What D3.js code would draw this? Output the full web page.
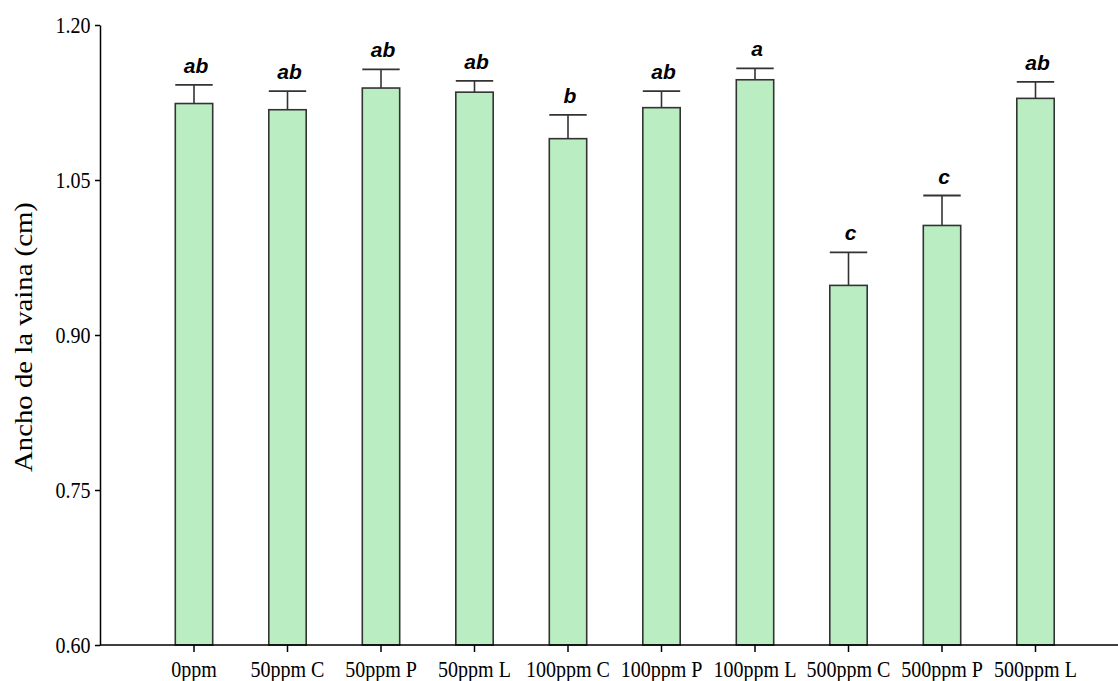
<!DOCTYPE html>
<html>
<head>
<meta charset="utf-8">
<script src="https://cdn.jsdelivr.net/npm/d3@7"></script>
<style>
  body { margin: 0; background: #fff; }
  svg { display: block; }
  .tick text { font-family: "Liberation Serif", "Times New Roman", serif; font-size: 23px; fill: #000; }
</style>
</head>
<body>
<div id="chart"></div>
<script>
// treatments and measured means / errors
var tratamientos = ["0ppm", "50ppm C", "50ppm P", "50ppm L", "100ppm C", "100ppm P", "100ppm L", "500ppm C", "500ppm P", "500ppm L"];
var medias = [1.124, 1.118, 1.139, 1.135, 1.090, 1.120, 1.147, 0.948, 1.006, 1.129];
var errores = [0.018, 0.018, 0.018, 0.011, 0.023, 0.016, 0.011, 0.032, 0.029, 0.016];
var letras = ["ab", "ab", "ab", "ab", "b", "ab", "a", "c", "c", "ab"];
var yTicks = [0.60, 0.75, 0.90, 1.05, 1.20];

var width = 1118, height = 681;
var svg = d3.select("#chart").append("svg")
  .attr("width", width)
  .attr("height", height);

var x = d3.scaleBand()
  .domain(tratamientos)
  .range([147.25, 1082.25])
  .paddingInner(0.6)
  .paddingOuter(0.3);

var y = d3.scaleLinear()
  .domain([0.6, 1.2])
  .range([645, 25]);

var data = tratamientos.map(function(t, i) {
  return { t: t, m: medias[i], e: errores[i], l: letras[i] };
});

// error bars (drawn first so the bar outline sits on top)
var eb = svg.append("g");
eb.selectAll("line.stem").data(data).enter().append("line")
  .attr("x1", function(d) { return x(d.t) + x.bandwidth() / 2; })
  .attr("x2", function(d) { return x(d.t) + x.bandwidth() / 2; })
  .attr("y1", function(d) { return y(d.m); })
  .attr("y2", function(d) { return y(d.m + d.e); })
  .attr("stroke", "#333").attr("stroke-width", 1.6);
eb.selectAll("line.cap").data(data).enter().append("line")
  .attr("x1", function(d) { return x(d.t); })
  .attr("x2", function(d) { return x(d.t) + x.bandwidth(); })
  .attr("y1", function(d) { return y(d.m + d.e); })
  .attr("y2", function(d) { return y(d.m + d.e); })
  .attr("stroke", "#333").attr("stroke-width", 1.8);

// bars
svg.append("g").selectAll("rect").data(data).enter().append("rect")
  .attr("x", function(d) { return x(d.t); })
  .attr("y", function(d) { return y(d.m); })
  .attr("width", x.bandwidth())
  .attr("height", function(d) { return y(0.6) - y(d.m); })
  .attr("fill", "#bbedc3")
  .attr("stroke", "#333")
  .attr("stroke-width", 1.6);

// significance letters
svg.append("g").selectAll("text").data(data).enter().append("text")
  .attr("x", function(d) { return x(d.t) + x.bandwidth() / 2 + 2; })
  .attr("y", function(d) { return y(d.m + d.e) - 12; })
  .attr("text-anchor", "middle")
  .style("font-family", "'Liberation Sans', Arial, sans-serif")
  .style("font-size", "21px")
  .style("font-weight", "bold")
  .style("font-style", "italic")
  .text(function(d) { return d.l; });

// y axis
var yAxis = svg.append("g")
  .attr("transform", "translate(100,0)")
  .call(d3.axisLeft(y).tickValues(yTicks).tickFormat(d3.format(".2f")).tickSize(5).tickSizeOuter(0));
yAxis.select(".domain").attr("stroke", "#000").attr("stroke-width", 1.5);
yAxis.selectAll(".tick line").attr("stroke", "#000").attr("stroke-width", 1.5);
yAxis.selectAll(".tick text")
  .attr("x", -11)
  .attr("transform", "scale(0.87,1)");

// x axis
var xAxis = svg.append("g")
  .attr("transform", "translate(0,645)")
  .call(d3.axisBottom(x).tickSize(7).tickSizeOuter(0));
xAxis.select(".domain").remove();
xAxis.selectAll(".tick line").attr("stroke", "#000").attr("stroke-width", 1.5);
xAxis.selectAll(".tick text")
  .attr("y", 16)
  .attr("transform", "scale(0.87,1)");
svg.append("line")
  .attr("x1", 100).attr("x2", width)
  .attr("y1", 645).attr("y2", 645)
  .attr("stroke", "#000").attr("stroke-width", 1.5);

// y title
svg.append("text")
  .attr("transform", "translate(32,337) rotate(-90) scale(1.15,1)")
  .attr("text-anchor", "middle")
  .style("font-family", "'Liberation Serif', 'Times New Roman', serif")
  .style("font-size", "25px")
  .text("Ancho de la vaina (cm)");
</script>
</body>
</html>
